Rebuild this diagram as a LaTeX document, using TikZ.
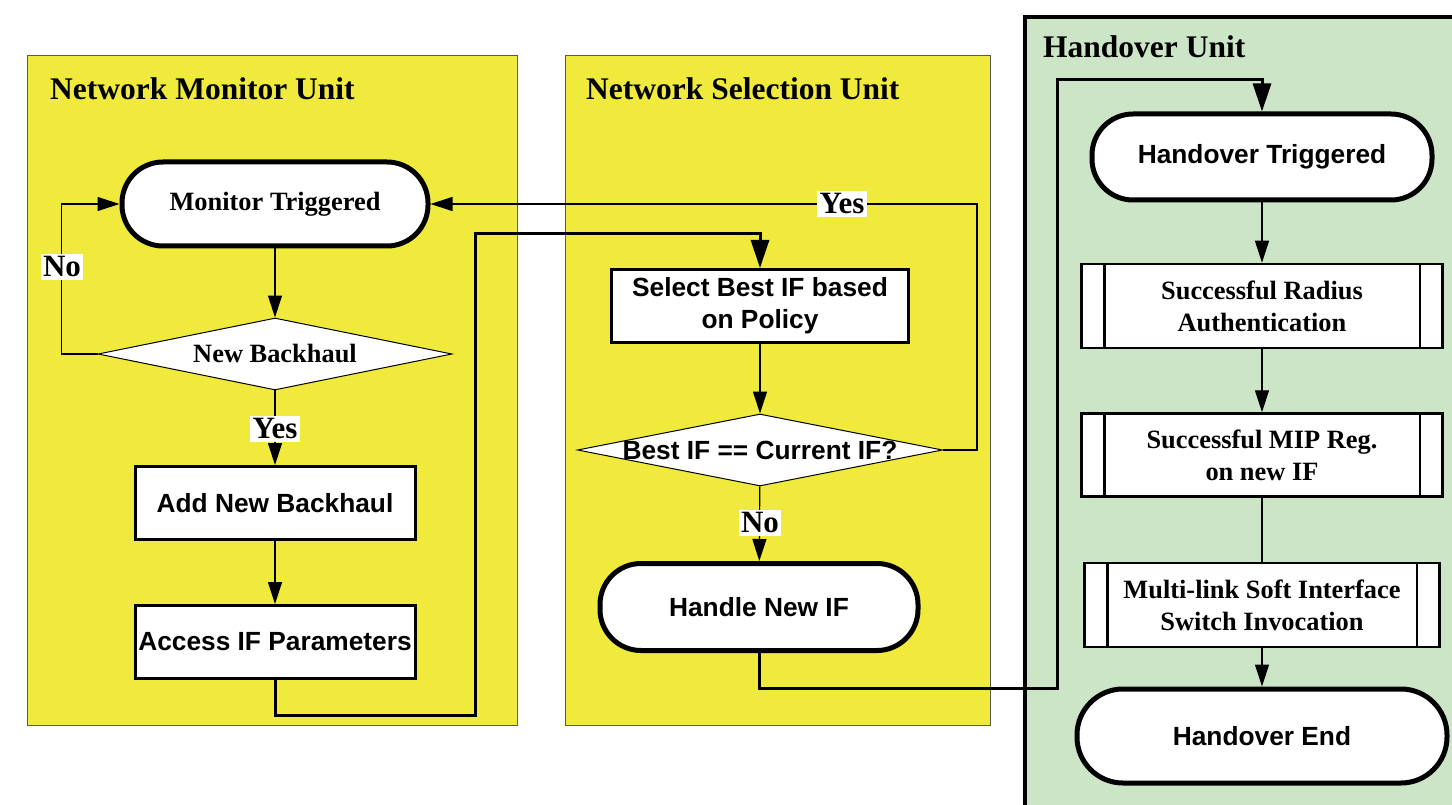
\documentclass[tikz,border=0pt]{standalone}
\usepackage{fontspec}
\setmainfont{Liberation Serif}
\newfontfamily\arialfont{Liberation Sans}
\usetikzlibrary{shapes.geometric,arrows.meta}
\definecolor{unityellow}{RGB}{239,234,60}
\definecolor{unitgreen}{RGB}{204,229,198}
\tikzset{
  panel/.style={draw=black!65,line width=0.8pt,fill=unityellow},
  paneltitle/.style={anchor=base west,inner sep=0pt,font=\bfseries\fontsize{31.5}{34}\selectfont},
  sanstext/.style={font=\arialfont\bfseries\fontsize{26.3}{32}\selectfont},
  seriftext/.style={font=\bfseries\fontsize{26.4}{32}\selectfont},
  terminal/.style={draw,fill=white,line width=5pt,rounded corners=41pt,
    minimum height=84pt,inner sep=0pt,sanstext},
  stepbox/.style={draw,fill=white,line width=3pt,inner sep=0pt,align=center,sanstext},
  decision/.style={diamond,draw,fill=white,line width=1pt,inner sep=0pt},
  subproc/.style={draw,fill=white,line width=2.5pt,inner sep=0pt,align=center,seriftext},
  answer/.style={fill=white,inner sep=2.5pt,font=\bfseries\fontsize{31}{33}\selectfont},
  flow/.style={line width=1.2pt,-{Triangle[length=22pt,width=14pt]}},
  plainflow/.style={line width=1.2pt},
  bigflow/.style={line width=3pt,-{Triangle[length=28pt,width=18pt]}},
}
\begin{document}
\begin{tikzpicture}[x=1pt,y=-1pt]
\clip (0,0) rectangle (1452,805);
\fill[white] (0,0) rectangle (1452,805);

% unit panels
\draw[panel] (27,55) rectangle (517,725);
\draw[panel] (565,55) rectangle (990,725);
\draw[fill=unitgreen,line width=4.5pt] (1025,17) rectangle (1470,830);
\node[paneltitle] (t1) at (50,100) {Network Monitor Unit};
\node[paneltitle] (t2) at (586,100) {Network Selection Unit};
\node[paneltitle] (t3) at (1043,58) {Handover Unit};

% network monitor unit
\node[terminal,minimum width=306pt,seriftext] (mt) at (275,204) {Monitor Triggered};
\node[decision,minimum width=354pt,minimum height=72pt] (nb) at (275,354) {};
\node[seriftext] (nbt) at (nb) {New Backhaul};
\node[stepbox,minimum width=280pt,minimum height=73pt] (ab) at (275,503) {Add New Backhaul};
\node[stepbox,minimum width=280pt,minimum height=73pt] (ap) at (275,642) {Access IF Parameters};

% network selection unit
\node[stepbox,minimum width=297pt,minimum height=73pt] (sb) at (760,306) {Select Best IF based\\on Policy};
\node[decision,minimum width=365pt,minimum height=72pt] (bc) at (760,450) {};
\node[sanstext] (bct) at (bc) {Best IF == Current IF?};
\node[terminal,minimum width=318pt,minimum height=87pt] (hn) at (759,607) {Handle New IF};

% handover unit
\node[terminal,minimum width=340pt,minimum height=86pt] (ht) at (1262,157) {Handover Triggered};
\node[subproc,minimum width=361pt,minimum height=84pt] (ra) at (1262,306) {Successful Radius\\Authentication};
\node[subproc,minimum width=361pt,minimum height=83pt] (mr) at (1262,455) {Successful MIP Reg.\\on new IF};
\node[subproc,minimum width=355pt,minimum height=84pt] (ml) at (1262,605) {Multi-link Soft Interface\\Switch Invocation};
\node[terminal,minimum width=370pt,minimum height=94pt,rounded corners=46pt] (he) at (1262,736) {Handover End};
\foreach \n/\d in {ra/24,mr/24,ml/24}{
  \draw[line width=2.5pt] ([xshift=\d pt]\n.north west) -- ([xshift=\d pt]\n.south west);
  \draw[line width=2.5pt] ([xshift=-\d pt]\n.north east) -- ([xshift=-\d pt]\n.south east);
}

% connectors
\draw[flow] (mt) -- (nb);
\draw[flow] (nb) -- (ab);
\draw[flow] (ab) -- (ap);
\draw[flow] (nb.west) -- ++(-36,0) |- (mt.west);
\draw[flow] (sb) -- (bc);
\draw[flow] (bc) -- (hn);
\draw[flow] (bc.east) -- (977,450) |- (mt.east);
\draw[bigflow] (ap.south) -- ++(0,35) -| (475,234) -| (sb.north);
\draw[bigflow] (hn.south) -- ++(0,35) -| (1057,80) -| (ht.north);
\draw[flow] (ht) -- (ra);
\draw[flow] (ra) -- (mr);
\draw[plainflow] (mr) -- (ml);
\draw[flow] (ml) -- (he);

% branch labels
\node[answer] (yes1) at (275,429) {Yes};
\node[answer] (no1) at (62,267) {No};
\node[answer] (yes2) at (842,204) {Yes};
\node[answer] (no2) at (760,523) {No};
\end{tikzpicture}
\end{document}
